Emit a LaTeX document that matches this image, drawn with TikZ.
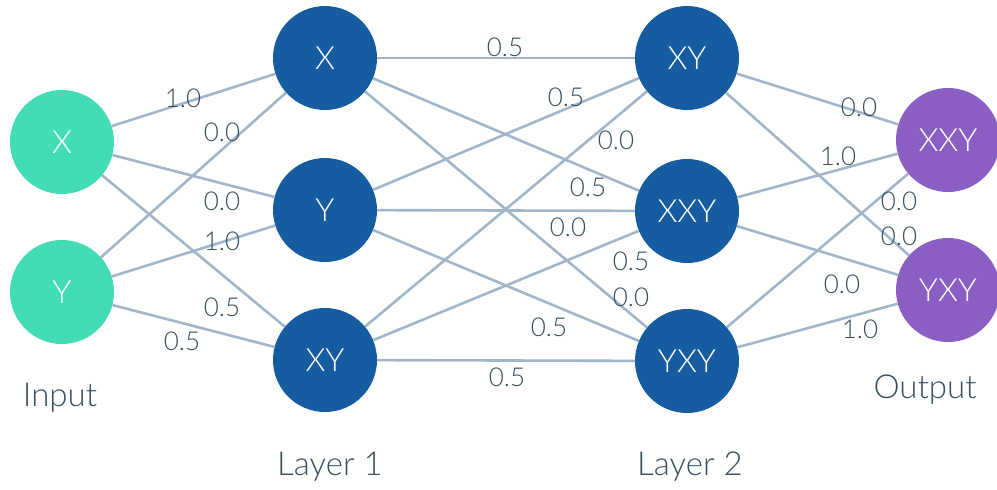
\documentclass[tikz,border=0pt]{standalone}
\usepackage{fontspec}
\setmainfont{Lato Light}
\definecolor{inCol}{HTML}{42DCB6}
\definecolor{hidCol}{HTML}{165CA0}
\definecolor{outCol}{HTML}{8B5EC4}
\definecolor{edgeCol}{HTML}{A2B6CA}
\definecolor{txtCol}{HTML}{38505F}
\begin{document}
\begin{tikzpicture}[x=1pt,y=-1pt,
  neuron/.style={circle,minimum size=104pt,inner sep=0pt,text=white,font=\fontsize{32}{36}\selectfont},
  innode/.style={neuron,fill=inCol},
  hidnode/.style={neuron,fill=hidCol},
  outnode/.style={neuron,fill=outCol},
  conn/.style={draw=edgeCol,line width=2.6pt},
  wlab/.style={text=txtCol,inner sep=0pt,font=\fontsize{26}{30}\selectfont},
  caption/.style={text=txtCol,inner sep=0pt,font=\fontsize{33}{38}\selectfont}]
\useasboundingbox (0,0) rectangle (997,490);
% nodes
\node[innode] (iX) at (62,142) {X};
\node[innode] (iY) at (62,292) {Y};
\node[hidnode] (aX) at (325,58) {X};
\node[hidnode] (aY) at (325,210) {Y};
\node[hidnode] (aXY) at (325,360) {XY};
\node[hidnode] (bXY) at (687,58) {XY};
\node[hidnode] (bXXY) at (687,211) {XXY};
\node[hidnode] (bYXY) at (687,361) {YXY};
\node[outnode] (oXXY) at (948,140) {XXY};
\node[outnode] (oYXY) at (948,290) {YXY};
% connectors
\foreach \a in {iX,iY}{\foreach \b in {aX,aY,aXY}{\draw[conn] (\a) -- (\b);}}
\foreach \a in {aX,aY,aXY}{\foreach \b in {bXY,bXXY,bYXY}{\draw[conn] (\a) -- (\b);}}
\foreach \a in {bXY,bXXY,bYXY}{\foreach \b in {oXXY,oYXY}{\draw[conn] (\a) -- (\b);}}
% weight labels
\node[wlab] (w1) at (183,98) {1.0};
\node[wlab] (w2) at (222,132) {0.0};
\node[wlab] (w3) at (222,201) {0.0};
\node[wlab] (w4) at (222,241) {1.0};
\node[wlab] (w5) at (222,307) {0.5};
\node[wlab] (w6) at (182,341) {0.5};
\node[wlab] (w7) at (505,47) {0.5};
\node[wlab] (w8) at (566,97) {0.5};
\node[wlab] (w9) at (616,140) {0.0};
\node[wlab] (w10) at (588,187) {0.5};
\node[wlab] (w11) at (568,227) {0.0};
\node[wlab] (w12) at (631,261) {0.5};
\node[wlab] (w13) at (631,297) {0.0};
\node[wlab] (w14) at (549,327) {0.5};
\node[wlab] (w15) at (507,377) {0.5};
\node[wlab] (w16) at (859,107) {0.0};
\node[wlab] (w17) at (838,156) {1.0};
\node[wlab] (w18) at (899,201) {0.0};
\node[wlab] (w19) at (899,236) {0.0};
\node[wlab] (w20) at (842,284) {0.0};
\node[wlab] (w21) at (860,329) {1.0};
% captions
\node[caption] (cIn) at (60,398) {Input};
\node[caption] (cL1) at (330,467) {Layer 1};
\node[caption] (cL2) at (690,467) {Layer 2};
\node[caption] (cOut) at (925,390) {Output};
\end{tikzpicture}
\end{document}
